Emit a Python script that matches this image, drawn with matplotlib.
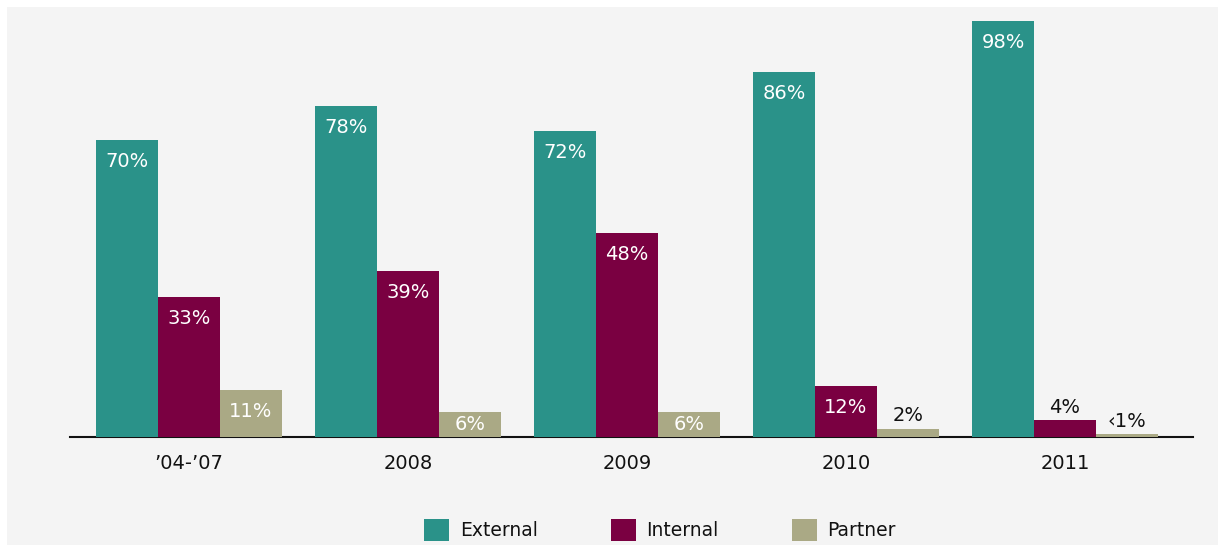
import matplotlib
matplotlib.use("Agg")
import matplotlib.pyplot as plt
from matplotlib.patches import Rectangle, Patch
import numpy as np

categories = ["\u201904-\u201907", "2008", "2009", "2010", "2011"]
series_names = ["External", "Internal", "Partner"]
external = [70, 78, 72, 86, 98]
internal = [33, 39, 48, 12, 4]
partner = [11, 6, 6, 2, 0.7]
partner_labels = ["11%", "6%", "6%", "2%", "\u20391%"]
external_labels = [f"{v}%" for v in external]
internal_labels = [f"{v}%" for v in internal]

colors = ["#2a9289", "#7a0041", "#aaa985"]

W, H = 1218, 545
fig = plt.figure(figsize=(W / 100, H / 100), dpi=100)
fig.patch.set_facecolor("white")
fig.patches.append(Rectangle((7 / W, 0), 1 - 7 / W, 1 - 7 / H, transform=fig.transFigure,
                             facecolor="#f4f4f4", edgecolor="none", zorder=-5))

# axes in pixel positions
left, right = 70, 1193
base, top = 437, 21
ax = fig.add_axes([left / W, 1 - base / H, (right - left) / W, (base - top) / H])
ax.set_zorder(2)
ax.set_facecolor("none")

spacing = 219.0
bw = 62 / spacing
x = np.arange(len(categories))
ax.set_xlim((left - 189) / spacing, (right - 189) / spacing)
ax.set_ylim(0, 98)

series = [external, internal, partner]
labels = [external_labels, internal_labels, partner_labels]
for k, (vals, labs, col) in enumerate(zip(series, labels, colors)):
    xs = x + (k - 1) * bw
    ax.bar(xs, vals, width=bw, color=col, edgecolor="none", zorder=2, clip_on=False)
    for xi, v, lab in zip(xs, vals, labs):
        if v >= 10:
            ax.annotate(lab, (xi, v), xytext=(0, -8.5), textcoords="offset points",
                        ha="center", va="top", color="white", fontsize=14, zorder=3)
        elif v >= 5:
            ax.annotate(lab, (xi, v / 2), xytext=(0, 0), textcoords="offset points",
                        ha="center", va="center", color="white", fontsize=14, zorder=3)
        else:
            ax.annotate(lab, (xi, v), xytext=(0, 2.5), textcoords="offset points",
                        ha="center", va="bottom", color="#111111", fontsize=14, zorder=3)

for s in ["top", "right", "left"]:
    ax.spines[s].set_visible(False)
ax.spines["bottom"].set_linewidth(1.5)
ax.spines["bottom"].set_color("#111111")
ax.spines["bottom"].set_zorder(1)
ax.set_yticks([])
ax.set_xticks(x)
ax.set_xticklabels(categories, fontsize=14, color="#111111")
ax.tick_params(axis="x", length=0, pad=12)

handles = [Patch(facecolor=c, edgecolor="none") for c in colors]
fig.legend(handles, series_names, loc="center", bbox_to_anchor=(660 / W, 1 - 530 / H),
           ncol=3, frameon=False, fontsize=13.5, handlelength=1.35, handleheight=1.35,
           handletextpad=0.55, columnspacing=3.9, labelcolor="#111111")

fig.savefig("out.png", dpi=100, facecolor=fig.get_facecolor())
